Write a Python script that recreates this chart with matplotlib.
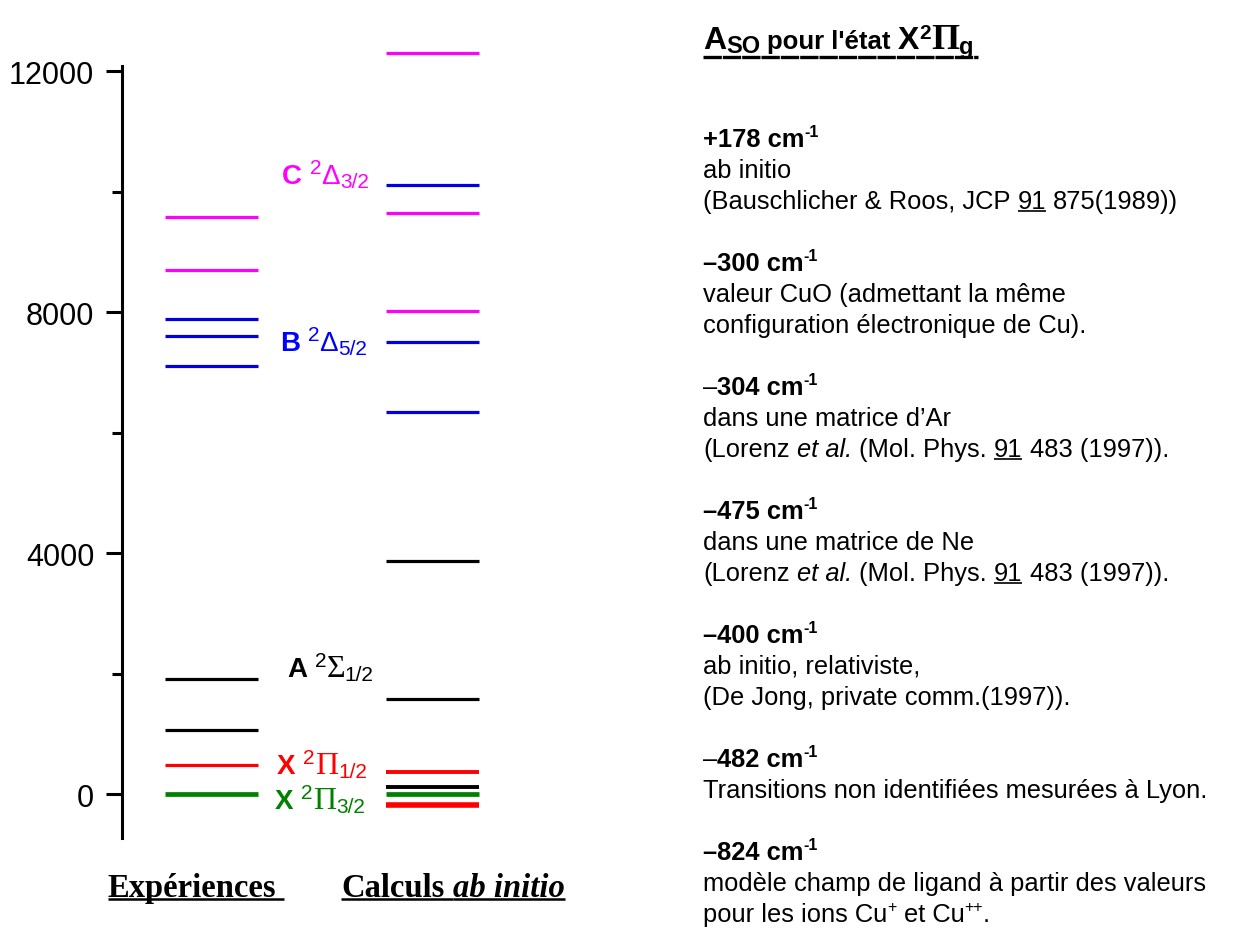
import matplotlib
matplotlib.use('Agg')
import matplotlib.pyplot as plt
from matplotlib.transforms import IdentityTransform
from matplotlib.lines import Line2D

# energy levels (cm-1)
exp_levels = [0, 481, 1062, 1909, 7104, 7602, 7884, 8697, 9577]
exp_colors = ['#008000', '#FF0000', 'black', 'black', '#0000E0', '#0000E0', '#0000E0', '#FF00FF', '#FF00FF']
exp_widths = [3.4, 2.3, 2.3, 2.3, 2.3, 2.3, 2.3, 2.3, 2.3]

calc_levels = [-183, 0, 111, 370, 1577, 3867, 6340, 7502, 8017, 9643, 10108, 12299]
calc_colors = ['#FF0000', '#008000', 'black', '#FF0000', 'black', 'black', '#0000E0', '#0000E0',
               '#FF00FF', '#FF00FF', '#0000E0', '#FF00FF']
calc_widths = [4.0, 3.4, 2.8, 2.8, 2.3, 2.3, 2.3, 2.3, 2.3, 2.3, 2.3, 2.3]

yticks_major = [0, 4000, 8000, 12000]
yticks_minor = [2000, 6000, 10000]

# state labels: letter, greek symbol, subscript, colour, y value of the label centre
state_letters = ['C', 'B', 'A', 'X', 'X']
state_greek = ['Δ', 'Δ', 'Σ', 'Π', 'Π']
state_subs = ['3/2', '5/2', '1/2', '1/2', '3/2']
state_colors = ['#FF00FF', '#0000FF', 'black', '#FF0000', '#008000']
state_yvals = [10290, 7519, 2108, 498, -83]
state_xpx = [282, 280, 287, 277, 275]

W, H = 1234, 929
fig = plt.figure(figsize=(W / 100, H / 100), dpi=100)
ax = fig.add_axes([122 / W, (H - 839) / H, 480 / W, (839 - 48) / H])
renderer = fig.canvas.get_renderer()
ID = IdentityTransform()

# level lines
half = 0.21
ax.hlines(exp_levels, 1 - half, 1 + half, colors=exp_colors, linewidths=exp_widths)
ax.hlines(calc_levels, 2 - half, 2 + half, colors=calc_colors, linewidths=calc_widths)
ax.set_xlim(0.595, 2.767)
ax.set_ylim(-730, 12400)

for s in ['top', 'right', 'bottom']:
    ax.spines[s].set_visible(False)
ax.spines['left'].set_linewidth(2.2)
ax.spines['left'].set_bounds(-730, 12090)
ax.set_xticks([])
ax.set_yticks(yticks_major)
ax.set_yticks(yticks_minor, minor=True)
ax.set_yticklabels([str(v) for v in yticks_major], fontsize=22, family='Liberation Sans')
ax.tick_params(axis='y', which='major', length=11.5, width=2.2, pad=8.5)
ax.tick_params(axis='y', which='minor', length=7, width=2.2)


def font_kw(st):
    return dict(family=st.get('family', 'Liberation Sans'), fontsize=st.get('size', 18),
                fontweight=st.get('weight', 'normal'), fontstyle=st.get('style', 'normal'),
                color=st.get('color', 'black'))


def measure(s, st):
    t = fig.text(0, 0, s, transform=ID, **font_kw(st))
    w = t.get_window_extent(renderer).width
    t.remove()
    return w


def space_w(st):
    return measure('a a', st) - measure('aa', st)


def draw_runs(x, y, runs, center=False, dry=False):
    """x, y in pixels from the top-left; y is the baseline."""
    if center:
        total = draw_runs(0, y, runs, dry=True)
        x = x - total / 2
    x0 = x
    for s, st in runs:
        sp = space_w(st)
        lead = len(s) - len(s.lstrip(' '))
        trail = len(s) - len(s.rstrip(' '))
        core = s.strip(' ')
        x += lead * sp
        w = measure(core, st) if core else 0
        if not dry and core:
            fig.text(x, H - y + st.get('rise', 0), core, transform=ID, va='baseline', ha='left',
                     **font_kw(st))
            if st.get('ul'):
                fig.add_artist(Line2D([x, x + w + trail * sp], [H - y - st.get('ulgap', 3)] * 2,
                                      transform=ID, color=st.get('color', 'black'),
                                      lw=st.get('ulw', 1.2), solid_capstyle='butt'))
        x += w + trail * sp
    return x - x0


# state labels
for let, gr, sub, col, yv, xp in zip(state_letters, state_greek, state_subs, state_colors,
                                     state_yvals, state_xpx):
    ypix = H - ax.transData.transform((1.5, yv))[1] + 9
    gfam = 'Liberation Sans' if gr == 'Δ' else 'Liberation Serif'
    gsize = 20 if gr == 'Δ' else 23
    draw_runs(xp, ypix, [
        (let, dict(weight='bold', size=20, color=col)),
        (' ', dict(size=10)),
        ('2', dict(size=15, color=col, rise=10)),
        (gr, dict(family=gfam, size=gsize, color=col)),
        (sub, dict(size=15, color=col, rise=-4)),
    ])

# column titles
serif_b = dict(family='Liberation Serif', weight='bold', size=23.5, ul=True, ulgap=3, ulw=1.8)
draw_runs(196, 897, [('Expériences ', serif_b)], center=True)
draw_runs(453, 897, [('Calculs ', serif_b), ('ab initio', dict(serif_b, style='italic'))], center=True)

# right-hand text block
TX = 703
draw_runs(TX, 49, [
    ('A', dict(weight='bold', size=23)),
    ('SO', dict(weight='bold', size=17, rise=-4)),
    (" pour l'état ", dict(weight='bold', size=18.5)),
    ('X', dict(weight='bold', size=23)),
    ('2', dict(weight='bold', size=15, rise=10)),
    ('Π', dict(family='Liberation Serif', weight='bold', size=26)),
    ('g', dict(weight='bold', size=17, rise=-5)),
])
fig.add_artist(Line2D([TX, 978], [H - 58] * 2, transform=ID, color='black', lw=2.4,
                      linestyle=(0, (5.5, 0.3))))

FS = 18.4
R = dict(size=FS)
B = dict(size=FS, weight='bold')
I = dict(size=FS, style='italic')
U = dict(size=FS, ul=True)
SUP_B = dict(size=11.5, weight='bold', rise=10)
SUP_R = dict(size=11.5, rise=10)

text_lines = [
    [('+178 cm', B), ('-1', SUP_B)],
    [('ab initio', R)],
    [('(Bauschlicher & Roos, JCP ', R), ('91', U), (' 875(1989))', R)],
    None,
    [('–300 cm', B), ('-1', SUP_B)],
    [('valeur CuO (admettant la même', R)],
    [('configuration électronique de Cu).', R)],
    None,
    [('–', R), ('304 cm', B), ('-1', SUP_B)],
    [('dans une matrice d’Ar', R)],
    [('(Lorenz ', R), ('et al.', I), (' (Mol. Phys. ', R), ('91', U), (' 483 (1997)).', R)],
    None,
    [('–475 cm', B), ('-1', SUP_B)],
    [('dans une matrice de Ne', R)],
    [('(Lorenz ', R), ('et al.', I), (' (Mol. Phys. ', R), ('91', U), (' 483 (1997)).', R)],
    None,
    [('–400 cm', B), ('-1', SUP_B)],
    [('ab initio, relativiste,', R)],
    [('(De Jong, private comm.(1997)).', R)],
    None,
    [('–', R), ('482 cm', B), ('-1', SUP_B)],
    [('Transitions non identifiées mesurées à Lyon.', R)],
    None,
    [('–824 cm', B), ('-1', SUP_B)],
    [('modèle champ de ligand à partir des valeurs', R)],
    [('pour les ions Cu', R), ('+', SUP_R), (' et Cu', R), ('++', SUP_R), ('.', R)],
]
pitch = 31
for i, runs in enumerate(text_lines):
    if runs:
        draw_runs(TX, 140 + pitch * i + 7, runs)

fig.savefig('out.png', dpi=100)
